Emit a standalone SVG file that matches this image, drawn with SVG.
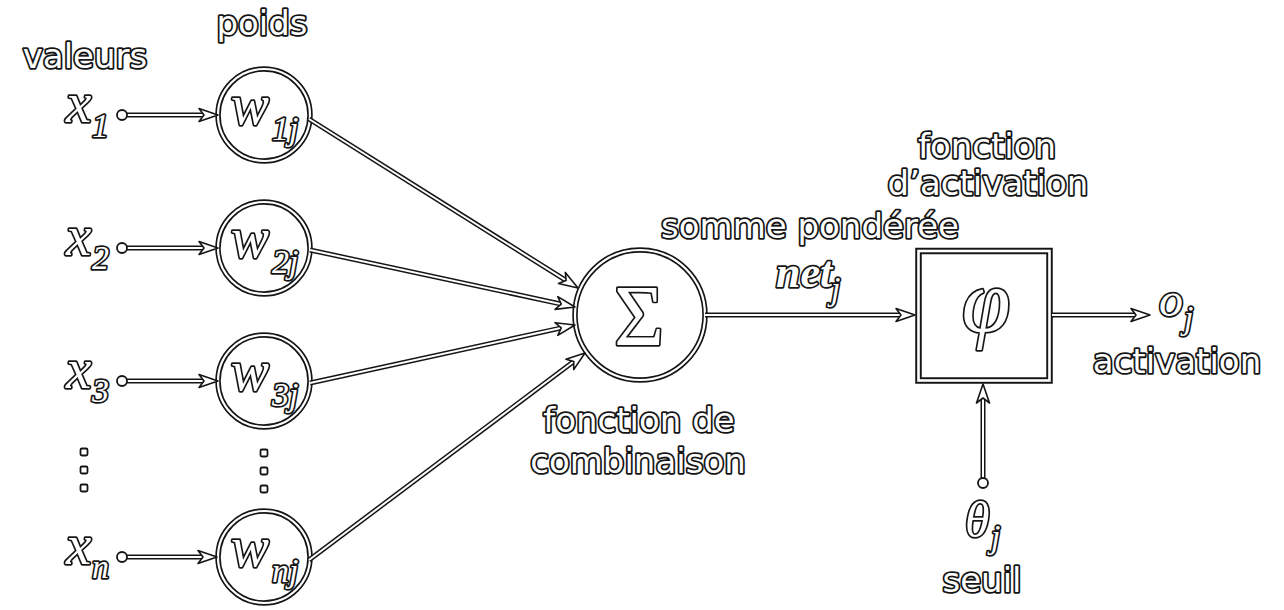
<svg xmlns="http://www.w3.org/2000/svg" width="1284" height="610" viewBox="0 0 1284 610">
<defs>
<style>
.lbl{font-family:"DejaVu Sans",sans-serif;font-size:34px;fill:#fff;stroke:#151515;stroke-width:3.6;paint-order:stroke;stroke-linejoin:round;text-anchor:middle}
.m{font-family:"Liberation Serif",serif;font-style:italic;fill:#fff;stroke:#151515;stroke-width:3.4;paint-order:stroke;stroke-linejoin:round}
.big{font-size:57px}
.sub{font-size:34px}
.ringb{fill:#fff;stroke:#151515;stroke-width:5.5}
.ringw{fill:none;stroke:#fff;stroke-width:2.2}
.lb{fill:none;stroke:#151515;stroke-width:5}
.lw{fill:none;stroke:#fff;stroke-width:2}
.dot{fill:#fff;stroke:#151515;stroke-width:1.8}
</style>
<marker id="ah" markerUnits="userSpaceOnUse" orient="auto" overflow="visible" markerWidth="30" markerHeight="20" refX="0" refY="0">
<path d="M10,0 L-9,-6.5 L-4,0 L-9,6.5 Z" fill="#fff" stroke="#151515" stroke-width="1.6" stroke-linejoin="round"/>
</marker>
</defs>
<rect width="1284" height="610" fill="#fff"/>

<g id="labels">
<text class="lbl" x="85" y="68">valeurs</text>
<text class="lbl" x="262" y="35">poids</text>
<text class="lbl" x="810" y="238">somme pondérée</text>
<text class="lbl" x="987" y="158">fonction</text>
<text class="lbl" x="988" y="195">d’activation</text>
<text class="lbl" x="639" y="432">fonction de</text>
<text class="lbl" x="638" y="473">combinaison</text>
<text class="lbl" x="1177" y="373">activation</text>
<text class="lbl" x="982" y="592">seuil</text>
</g>

<g id="inputs">
<g id="x1"><text class="m big" x="66" y="122">x</text><text class="m sub" x="92" y="137">1</text></g>
<g id="x2"><text class="m big" x="66" y="255">x</text><text class="m sub" x="92" y="269">2</text></g>
<g id="x3"><text class="m big" x="66" y="388">x</text><text class="m sub" x="92" y="402">3</text></g>
<g id="xn"><text class="m big" x="66" y="564">x</text><text class="m sub" x="92" y="578">n</text></g>
</g>

<g id="weights">
<g id="w1j"><circle class="ringb" cx="264" cy="115" r="46"/><circle class="ringw" cx="264" cy="115" r="46"/><text class="m big" x="231" y="124">w</text><text class="m sub" x="272" y="140">1j</text></g>
<g id="w2j"><circle class="ringb" cx="264" cy="248" r="46"/><circle class="ringw" cx="264" cy="248" r="46"/><text class="m big" x="231" y="257">w</text><text class="m sub" x="272" y="273">2j</text></g>
<g id="w3j"><circle class="ringb" cx="264" cy="381" r="46"/><circle class="ringw" cx="264" cy="381" r="46"/><text class="m big" x="231" y="390">w</text><text class="m sub" x="272" y="406">3j</text></g>
<g id="wnj"><circle class="ringb" cx="264" cy="557" r="46"/><circle class="ringw" cx="264" cy="557" r="46"/><text class="m big" x="231" y="566">w</text><text class="m sub" x="272" y="582">nj</text></g>
</g>

<g id="ellipsis">
<rect class="dot" x="80.5" y="448.5" width="7" height="7" rx="1.5"/>
<rect class="dot" x="80.5" y="466.5" width="7" height="7" rx="1.5"/>
<rect class="dot" x="80.5" y="484.5" width="7" height="7" rx="1.5"/>
<rect class="dot" x="260.5" y="449.5" width="7" height="7" rx="1.5"/>
<rect class="dot" x="260.5" y="467.5" width="7" height="7" rx="1.5"/>
<rect class="dot" x="260.5" y="485.5" width="7" height="7" rx="1.5"/>
</g>

<g id="sum">
<circle class="ringb" cx="640" cy="315" r="65"/><circle class="ringw" cx="640" cy="315" r="65"/>
<text x="639" y="345" text-anchor="middle" font-family="Liberation Serif, serif" font-size="86" fill="#fff" stroke="#151515" stroke-width="3.4" paint-order="stroke" stroke-linejoin="round">Σ</text>
</g>

<g id="activation">
<rect x="918.5" y="251" width="131" height="129.5" fill="#fff" stroke="#151515" stroke-width="6.5"/>
<rect x="918.5" y="251" width="131" height="129.5" fill="none" stroke="#fff" stroke-width="2.6"/>
<text class="m" x="986" y="331" text-anchor="middle" font-size="88">φ</text>
</g>

<g id="netj"><text class="m" x="776" y="287" font-size="44" font-weight="bold">net</text><text class="m sub" x="831" y="300" font-size="30">j</text></g>
<g id="oj"><text class="m" x="1159" y="316" font-size="48">o</text><text class="m sub" x="1184" y="329" font-size="30">j</text></g>
<g id="thetaj"><text class="m" x="965" y="537" font-size="50">θ</text><text class="m sub" x="991" y="548" font-size="30">j</text></g>

<g id="connectors">
<path class="lb" d="M122,115 H208"/><path class="lw" d="M122,115 H208" marker-end="url(#ah)"/>
<path class="lb" d="M122,248 H208"/><path class="lw" d="M122,248 H208" marker-end="url(#ah)"/>
<path class="lb" d="M122,381 H208"/><path class="lw" d="M122,381 H208" marker-end="url(#ah)"/>
<path class="lb" d="M122,557 H207"/><path class="lw" d="M122,557 H207" marker-end="url(#ah)"/>
<path class="lb" d="M309,119 L569.5,282.7"/><path class="lw" d="M309,119 L569.5,282.7" marker-end="url(#ah)"/>
<path class="lb" d="M310,250 L565.2,304.9"/><path class="lw" d="M310,250 L565.2,304.9" marker-end="url(#ah)"/>
<path class="lb" d="M310,383 L565.2,327.1"/><path class="lw" d="M310,383 L565.2,327.1" marker-end="url(#ah)"/>
<path class="lb" d="M309,560 L577,359"/><path class="lw" d="M309,560 L577,359" marker-end="url(#ah)"/>
<path class="lb" d="M705,315 H905"/><path class="lw" d="M705,315 H905" marker-end="url(#ah)"/>
<path class="lb" d="M1052,315 H1140"/><path class="lw" d="M1052,315 H1140" marker-end="url(#ah)"/>
<path class="lb" d="M983,483 V394"/><path class="lw" d="M983,483 V394" marker-end="url(#ah)"/>
<circle class="dot" cx="122" cy="115" r="5"/>
<circle class="dot" cx="122" cy="248" r="5"/>
<circle class="dot" cx="122" cy="381" r="5"/>
<circle class="dot" cx="122" cy="557" r="5"/>
<circle class="dot" cx="983" cy="483" r="5"/>
</g>
</svg>
